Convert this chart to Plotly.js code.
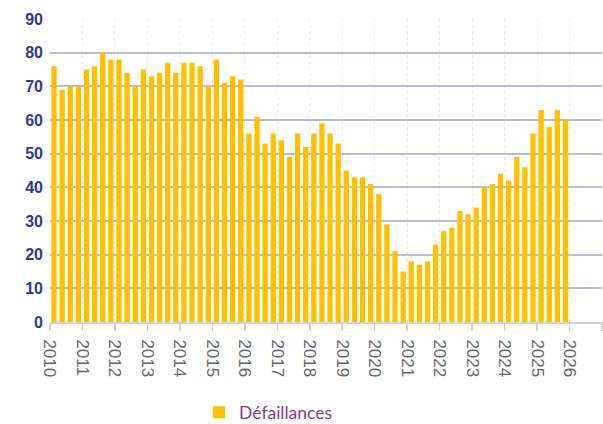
<!DOCTYPE html>
<html>
<head>
<meta charset="utf-8">
<script src="https://cdn.plot.ly/plotly-3.0.1.min.js"></script>
<style>html,body{margin:0;padding:0;background:#fff;}#chart{width:603px;height:424px;}</style>
</head>
<body>
<div id="chart"></div>
<script>
// Quarterly series, 2010 Q1 .. 2025 Q4
const years = [2010,2011,2012,2013,2014,2015,2016,2017,2018,2019,2020,2021,2022,2023,2024,2025];
const quarters = [1,2,3,4];
const defaillances = [
  76,69,70,70,
  75,76,80,78,
  78,74,70,75,
  73,74,77,74,
  77,77,76,70,
  78,71,73,72,
  56,61,53,56,
  54,49,56,52,
  56,59,56,53,
  45,43,43,41,
  38,29,21,15,
  18,17,18,23,
  27,28,33,32,
  34,40,41,44,
  42,49,46,56,
  63,58,63,60
];
const seriesName = 'Défaillances';
const tickYears = [2010,2011,2012,2013,2014,2015,2016,2017,2018,2019,2020,2021,2022,2023,2024,2025,2026,2027];
const tickLabels = ['2010','2011','2012','2013','2014','2015','2016','2017','2018','2019','2020','2021','2022','2023','2024','2025','2026',''];
const yTicks = [0,10,20,30,40,50,60,70,80,90];

const xs = [];
years.forEach(y => quarters.forEach(q => xs.push(y + (q - 0.5) / 4)));

const trace = {
  type: 'bar',
  x: xs,
  y: defaillances,
  name: seriesName,
  marker: {color: '#FFC000', line: {width: 0}},
  showlegend: true,
  hoverinfo: 'x+y'
};

const layout = {
  width: 603, height: 424,
  margin: {l: 50, r: 1, t: 19, b: 102, autoexpand: false},
  paper_bgcolor: '#fff', plot_bgcolor: '#fff',
  bargap: 0.35,
  showlegend: true,
  legend: {
    orientation: 'h', x: 0.27, xanchor: 'left', y: -0.298, yanchor: 'middle',
    font: {family: 'Lato, sans-serif', size: 17.5, color: '#8E3A96'},
    bgcolor: 'rgba(0,0,0,0)'
  },
  xaxis: {
    range: [2010, 2027], automargin: false,
    tickmode: 'array', tickvals: tickYears, ticktext: tickLabels,
    tickangle: 90,
    tickfont: {family: 'Liberation Sans, Arial, sans-serif', size: 17, color: '#666'},
    ticks: 'outside', ticklen: 7, tickcolor: '#d0d0d0', tickwidth: 1.5,
    ticklabelstandoff: 5,
    showline: true, linecolor: '#d0d0d0', linewidth: 2,
    showgrid: true, gridcolor: '#e8e8e8', gridwidth: 1, griddash: 'dot',
    zeroline: false, fixedrange: true
  },
  yaxis: {
    range: [0, 90], automargin: false,
    tickvals: yTicks,
    tickfont: {family: 'Liberation Sans, Arial, sans-serif', size: 16, color: '#2E3A93', weight: 'bold'},
    ticklabelstandoff: 6,
    showgrid: true, gridcolor: '#B9BDDD', gridwidth: 2,
    zeroline: false, showline: false, ticks: '', fixedrange: true
  }
};

Plotly.newPlot('chart', [trace], layout, {displayModeBar: false, staticPlot: true});
</script>
</body>
</html>
